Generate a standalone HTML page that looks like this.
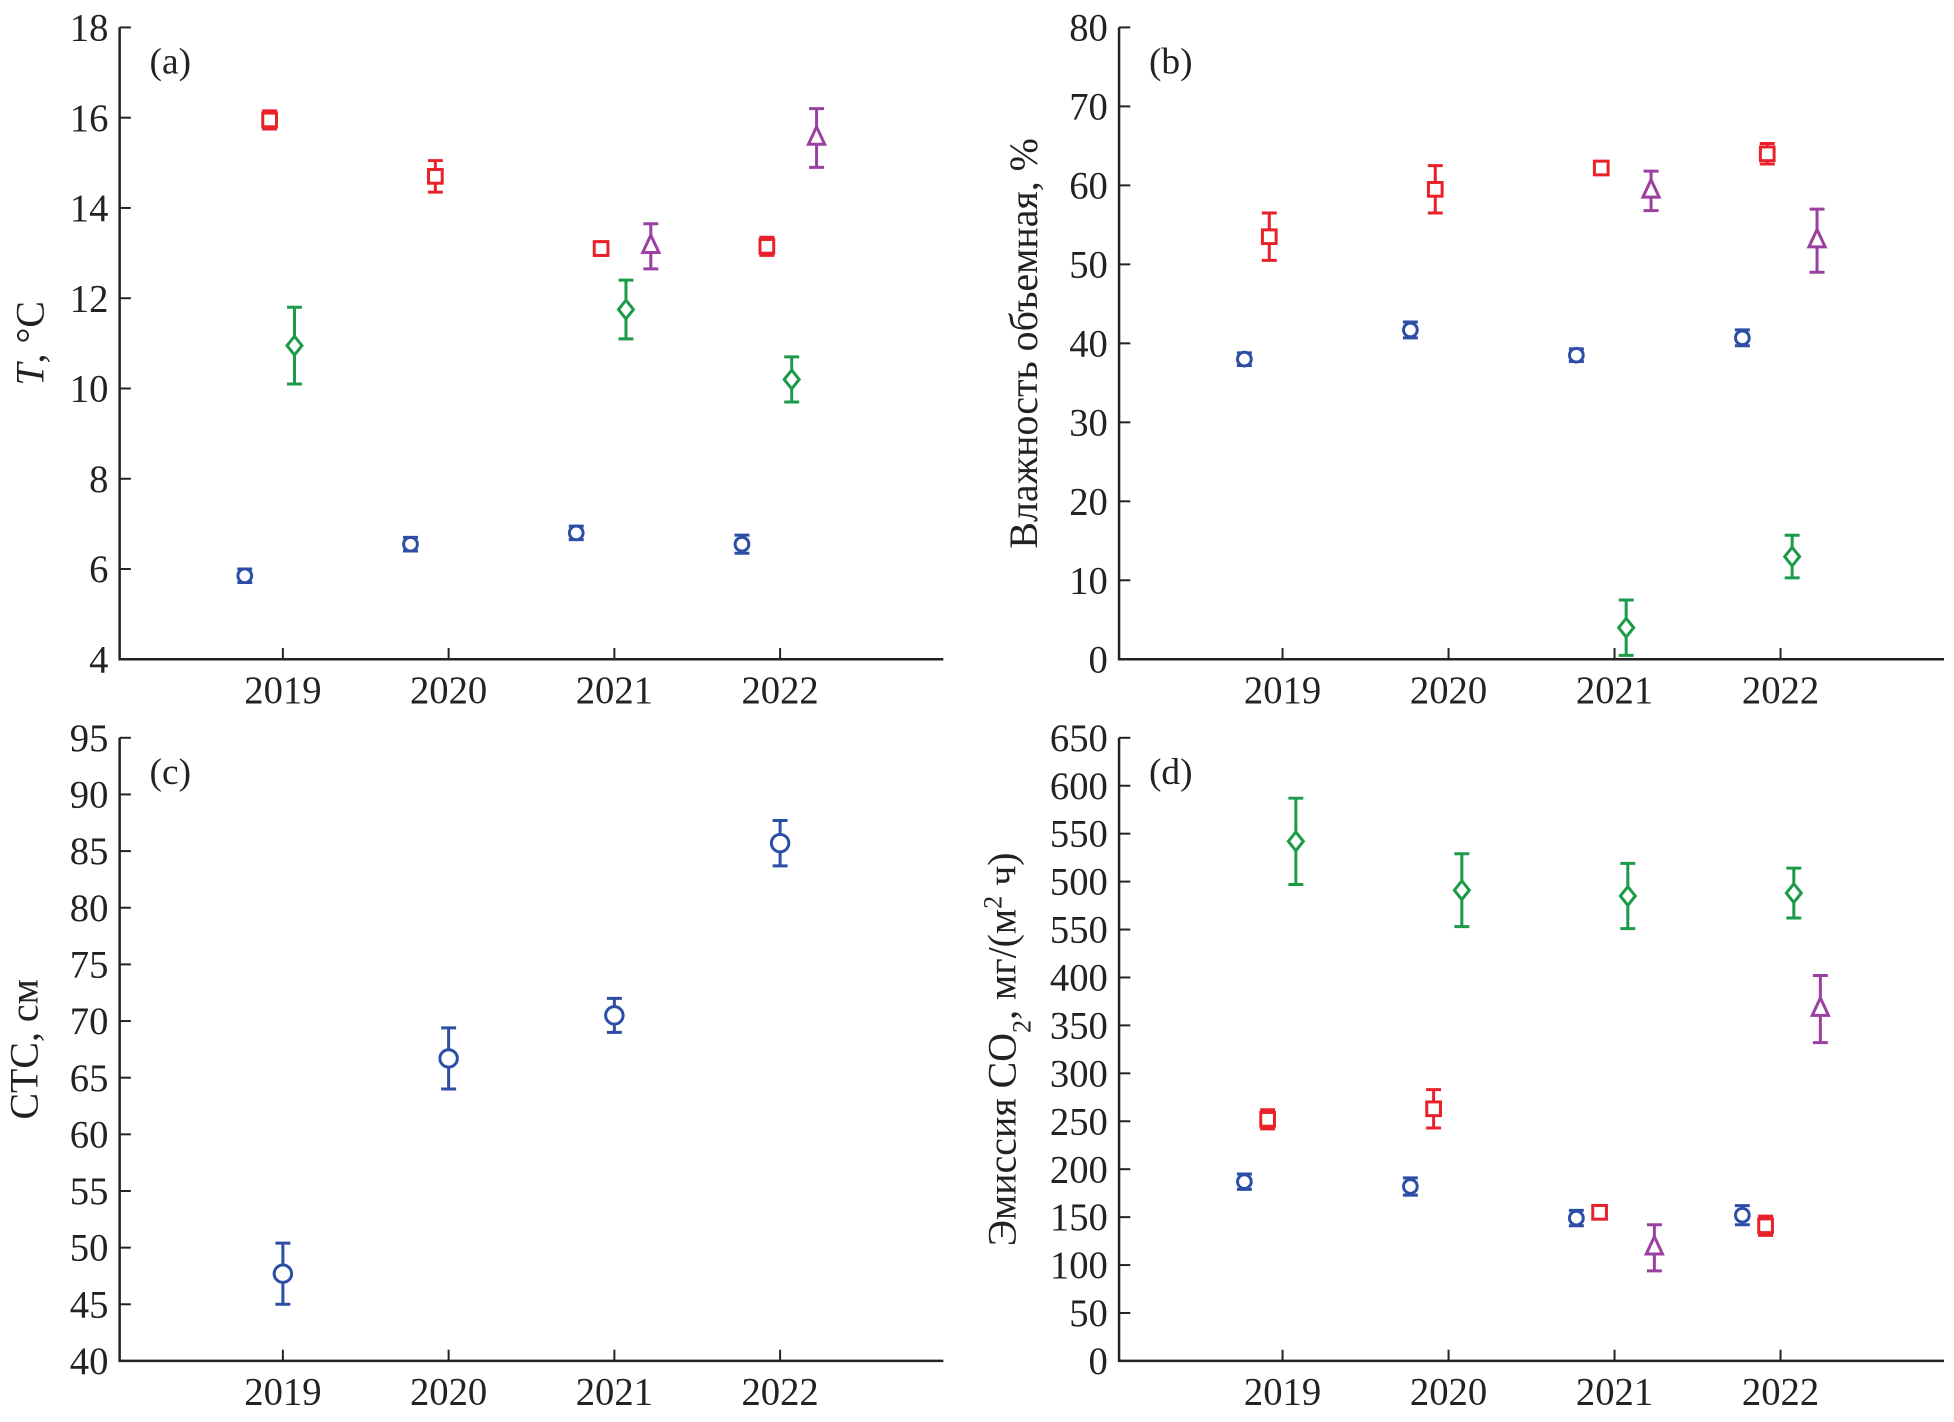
<!DOCTYPE html>
<html><head><meta charset="utf-8"><style>
html,body{margin:0;padding:0;background:#fff;}
svg{display:block;}
text{font-family:"Liberation Serif",serif;fill:#222;}
</style></head><body>
<svg id="fig" width="1954" height="1422" viewBox="0 0 1568 1141" preserveAspectRatio="none" xmlns="http://www.w3.org/2000/svg"></svg>
<script>
// ---- data ----
const years = [2019, 2020, 2021, 2022];
// panel a: temperature
const aBlue = [5.85, 6.55, 6.8, 6.55];     const aBlueErr = [0.15, 0.15, 0.15, 0.2];
const aRed = [15.95, 14.7, 13.1, 13.15];   const aRedErr = [0.2, 0.35, 0.15, 0.2];
const aGreenYears = [2019, 2021, 2022];
const aGreen = [10.95, 11.75, 10.2];        const aGreenErr = [0.85, 0.65, 0.5];
const aPurpleYears = [2021, 2022];
const aPurple = [13.15, 15.55];             const aPurpleErr = [0.5, 0.65];
const aTicks = [4, 6, 8, 10, 12, 14, 16, 18];
// panel b: moisture
const bBlue = [38, 41.7, 38.5, 40.7];      const bBlueErr = [0.8, 1, 0.8, 1];
const bRed = [53.5, 59.5, 62.2, 64];       const bRedErr = [3, 3, 0.8, 1.3];
const bGreenYears = [2021, 2022];
const bGreen = [4, 13];                     const bGreenErr = [3.5, 2.7];
const bPurpleYears = [2021, 2022];
const bPurple = [59.3, 53];                 const bPurpleErr = [2.5, 4];
const bTicks = [0, 10, 20, 30, 40, 50, 60, 70, 80];
// panel c: thaw depth
const cBlue = [47.7, 66.7, 70.5, 85.7];    const cBlueErr = [2.7, 2.7, 1.5, 2];
const cTicks = [40, 45, 50, 55, 60, 65, 70, 75, 80, 85, 90, 95];
// panel d: CO2 emission
const dBlue = [187, 182, 149, 152];        const dBlueErr = [8, 9, 8, 10];
const dRed = [252, 263, 155, 141];         const dRedErr = [10, 20, 7, 10];
const dGreen = [542, 491, 485, 488];       const dGreenErr = [45, 38, 34, 26];
const dPurpleYears = [2021, 2022];
const dPurple = [118, 367];                 const dPurpleErr = [24, 35];
const dTicks = [0, 50, 100, 150, 200, 250, 300, 350, 400, 450, 500, 550, 600, 650];
const dTickLabels = ["0","50","100","150","200","250","300","350","400","550","500","550","600","650"];

const NS = "http://www.w3.org/2000/svg";
const svg = document.getElementById("fig");
const C = {blue:"#2c4ea6", red:"#e8212b", green:"#1b9a48", purple:"#9a40a0"};
function el(tag, attrs, parent) {
  const e = document.createElementNS(NS, tag);
  for (const k in attrs) e.setAttribute(k, attrs[k]);
  (parent || svg).appendChild(e);
  return e;
}
function panel(o) {
  const g = el("g", {});
  
  
  const xs = v => o.x0 + (v - 2018.015) / (2022.985 - 2018.015) * (o.x1 - o.x0);
  const ys = v => o.yb - (v - o.ymin) / (o.ymax - o.ymin) * (o.yb - o.yt);
  const ax = el("path", {d:`M${o.x0},${o.yt} V${o.yb} H${o.x1}`, fill:"none", stroke:"#222", "stroke-width":2}, g);
  
  
  o.ticks.forEach((t, i) => {
    const y = ys(t);
    el("line", {x1:o.x0, x2:o.x0+9, y1:y, y2:y, stroke:"#222", "stroke-width":1.6}, g);
    const tx = el("text", {x:o.x0-9, y:y+10.5, "text-anchor":"end", "font-size":31}, g);
    tx.textContent = o.tickLabels ? o.tickLabels[i] : t;
    
    
  });
  years.forEach(yr => {
    const x = xs(yr);
    el("line", {x1:x, x2:x, y1:o.yb, y2:o.yb-9, stroke:"#222", "stroke-width":1.6}, g);
    const tx = el("text", {x:x, y:o.yb+35, "text-anchor":"middle", "font-size":31}, g);
    tx.textContent = yr;
    
    
  });
  const lab = el("text", {x:o.x0+24, y:o.yt+37, "font-size":30}, g);
  lab.textContent = o.label;
  
  
  const t = el("text", {transform:`translate(${o.titleX},${(o.yt+o.yb)/2}) rotate(-90)`, "text-anchor":"middle", "font-size":32}, g);
  t.innerHTML = o.title;
  
  
  o.series.forEach(s => {
    s.vals.forEach((v, i) => {
      const x = xs(s.yrs[i] + s.off), y = ys(v);
      const y1 = ys(v + s.err[i]), y2 = ys(v - s.err[i]);
      const m = el("g", {stroke:C[s.color], fill:"none", "stroke-width":2.4}, g);
      
      
      el("path", {d:`M${x},${y1} V${y2} M${x-6},${y1} H${x+6} M${x-6},${y2} H${x+6}`}, m);
      if (s.shape === "circle") el("circle", {cx:x, cy:y, r:s.r||5.5, fill:"#fff"}, m);
      if (s.shape === "square") el("rect", {x:x-5.5, y:y-5.5, width:11, height:11, fill:"#fff"}, m);
      if (s.shape === "diamond") el("path", {d:`M${x},${y-7.5} L${x+6},${y} L${x},${y+7.5} L${x-6},${y}Z`, fill:"#fff"}, m);
      if (s.shape === "triangle") el("path", {d:`M${x},${y-9} L${x+6.5},${y+5} L${x-6.5},${y+5}Z`, fill:"#fff"}, m);
    });
  });
}
panel({name:"panel-a-temperature", label:"(a)", x0:96, x1:757, yt:22, yb:529, ymin:4, ymax:18, ticks:aTicks, titleX:35,
  title:'<tspan font-style="italic">T</tspan>, °C',
  series:[
    {color:"blue", shape:"circle", yrs:years, vals:aBlue, err:aBlueErr, off:-0.23},
    {color:"red", shape:"square", yrs:years, vals:aRed, err:aRedErr, off:-0.08},
    {color:"green", shape:"diamond", yrs:aGreenYears, vals:aGreen, err:aGreenErr, off:0.07},
    {color:"purple", shape:"triangle", yrs:aPurpleYears, vals:aPurple, err:aPurpleErr, off:0.22}]});
panel({name:"panel-b-moisture", label:"(b)", x0:898, x1:1560, yt:22, yb:529, ymin:0, ymax:80, ticks:bTicks, titleX:832,
  title:'Влажность объемная, %',
  series:[
    {color:"blue", shape:"circle", yrs:years, vals:bBlue, err:bBlueErr, off:-0.23},
    {color:"red", shape:"square", yrs:years, vals:bRed, err:bRedErr, off:-0.08},
    {color:"green", shape:"diamond", yrs:bGreenYears, vals:bGreen, err:bGreenErr, off:0.07},
    {color:"purple", shape:"triangle", yrs:bPurpleYears, vals:bPurple, err:bPurpleErr, off:0.22}]});
panel({name:"panel-c-thaw-depth", label:"(c)", x0:96, x1:757, yt:592, yb:1092, ymin:40, ymax:95, ticks:cTicks, titleX:30,
  title:'СТС, см',
  series:[
    {color:"blue", shape:"circle", yrs:years, vals:cBlue, err:cBlueErr, off:0, r:7}]});
panel({name:"panel-d-co2-emission", label:"(d)", x0:898, x1:1560, yt:592, yb:1092, ymin:0, ymax:650, ticks:dTicks, tickLabels:dTickLabels, titleX:815,
  title:'Эмиссия CO<tspan baseline-shift="sub" font-size="21">2</tspan>, мг/(м<tspan baseline-shift="super" font-size="21">2</tspan> ч)',
  series:[
    {color:"blue", shape:"circle", yrs:years, vals:dBlue, err:dBlueErr, off:-0.23},
    {color:"red", shape:"square", yrs:years, vals:dRed, err:dRedErr, off:-0.09},
    {color:"green", shape:"diamond", yrs:years, vals:dGreen, err:dGreenErr, off:0.08},
    {color:"purple", shape:"triangle", yrs:dPurpleYears, vals:dPurple, err:dPurpleErr, off:0.24}]});
</script>
</body></html>
